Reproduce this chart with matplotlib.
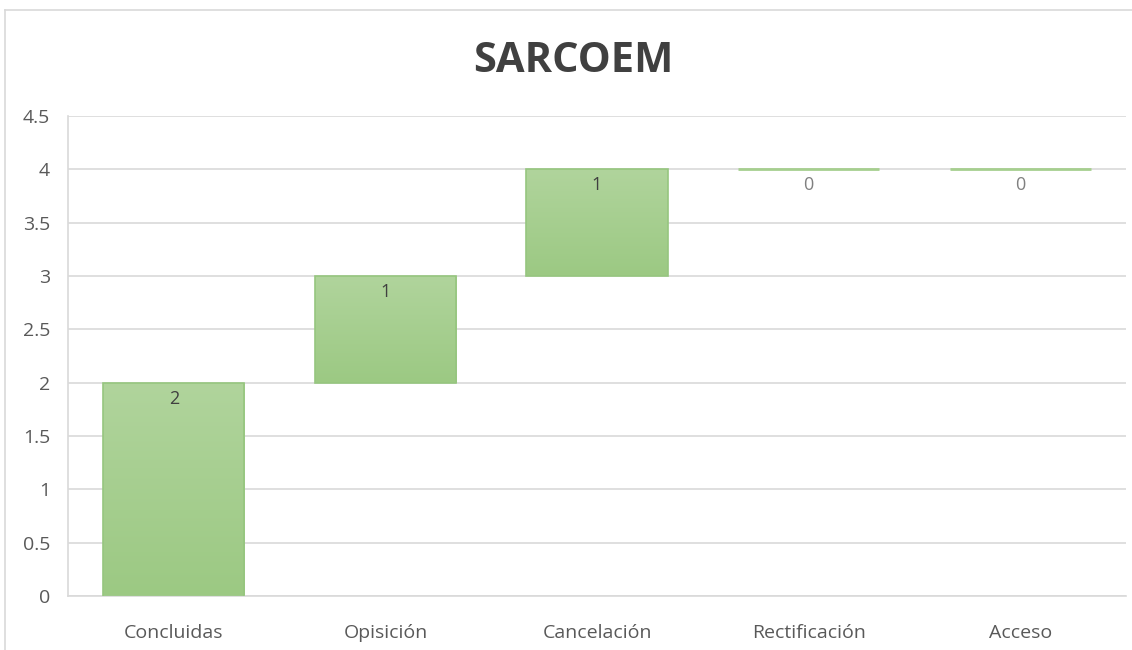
import matplotlib
matplotlib.use("Agg")
import matplotlib.pyplot as plt
import numpy as np
from matplotlib.patches import Rectangle
from matplotlib.lines import Line2D

categories = ["Concluidas", "Opisición", "Cancelación", "Rectificación", "Acceso"]
values = [2, 1, 1, 0, 0]
yticks = [0, 0.5, 1, 1.5, 2, 2.5, 3, 3.5, 4, 4.5]
title = "SARCOEM"

plt.rcParams['font.family'] = ['Open Sans', 'DejaVu Sans']

fig = plt.figure(figsize=(11.32, 6.5), dpi=100)
ax = fig.add_axes([68/1132, 1-596/650, (1126-68)/1132, (596-116)/650])

# chart-area border: only left and top edges are visible in the reference crop
bx, by = 5/1132, 1 - 10/650
fig.lines.append(Line2D([bx, bx], [0, by], transform=fig.transFigure, color='#d9d9d9', linewidth=1.2))
fig.lines.append(Line2D([bx, 1], [by, by], transform=fig.transFigure, color='#d9d9d9', linewidth=1.2))

x = np.arange(len(categories))
bottoms = np.concatenate([[0], np.cumsum(values)[:-1]])
width = 0.667

cmap = matplotlib.colors.LinearSegmentedColormap.from_list('g', ['#9cc983', '#b0d49c'])
for xi, b, v in zip(x, bottoms, values):
    if v > 0:
        rect = Rectangle((xi - width/2, b), width, v, facecolor='none', edgecolor='#96c67f', linewidth=1.2, zorder=3)
        ax.add_patch(rect)
        grad = np.linspace(0, 1, 100).reshape(-1, 1)
        im = ax.imshow(grad, cmap=cmap, origin='lower', aspect='auto',
                       extent=(xi - width/2, xi + width/2, b, b + v), zorder=2)
        im.set_clip_path(rect)
    else:
        ax.plot([xi - width/2, xi + width/2], [b, b], color='#a6cf8f', linewidth=2, zorder=3,
                solid_capstyle='butt')
    ax.annotate(str(v), (xi, b + v), xytext=(0, -5), textcoords='offset points',
                ha='center', va='top', fontsize=13, color='#404040' if v > 0 else '#808080', zorder=4)

ax.set_xlim(-0.5, len(categories) - 0.5)
ax.set_ylim(0, 4.5)
ax.set_yticks(yticks)
ax.set_yticklabels([("%g" % t) for t in yticks])
ax.set_xticks(x)
ax.set_xticklabels(categories)
ax.tick_params(axis='both', length=0, labelsize=14, labelcolor='#595959')
ax.tick_params(axis='x', pad=20)
ax.tick_params(axis='y', pad=13)
ax.grid(axis='y', color='#d9d9d9', linewidth=1.2, zorder=0)
ax.set_axisbelow(True)
for s in ['top', 'right']:
    ax.spines[s].set_visible(False)
ax.spines['left'].set_color('#d9d9d9')
ax.spines['bottom'].set_color('#d9d9d9')
ax.spines['left'].set_linewidth(1.2)
ax.spines['bottom'].set_linewidth(1.2)

fig.text(573/1132, 1-62/650, title, ha='center', va='center', fontsize=30, fontweight='bold', color='#404040')

fig.savefig('out.png', dpi=100)
